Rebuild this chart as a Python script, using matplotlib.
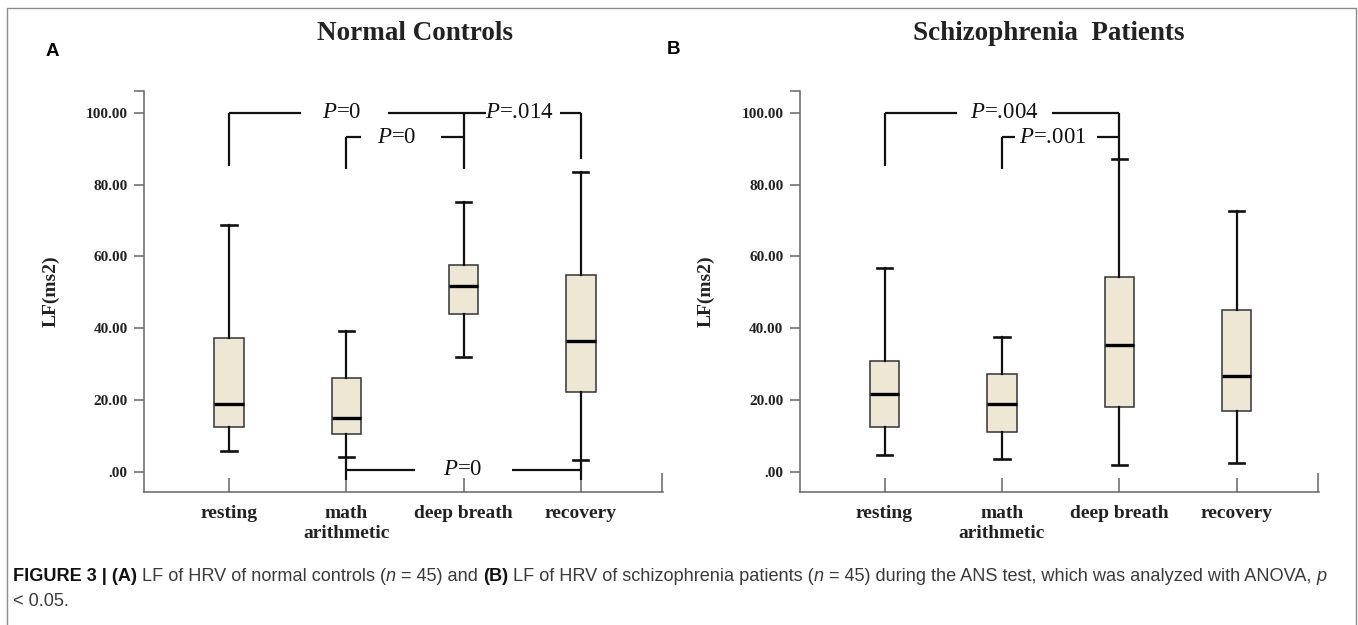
import matplotlib
matplotlib.use('Agg')
import matplotlib.pyplot as plt
from matplotlib.lines import Line2D

plt.rcParams['font.family'] = ['Liberation Serif', 'DejaVu Serif']
plt.rcParams['mathtext.fontset'] = 'custom'
plt.rcParams['mathtext.rm'] = 'Liberation Serif'
plt.rcParams['mathtext.it'] = 'Liberation Serif:italic'

# --- data ---
conditions = ['resting', 'math\narithmetic', 'deep breath', 'recovery']
positions = [1, 2, 3, 4]
y_ticks = [0, 20, 40, 60, 80, 100]
y_tick_labels = ['.00', '20.00', '40.00', '60.00', '80.00', '100.00']

# normal controls
nc_whislo = [5.9, 4.2, 31.9, 3.4]
nc_q1 = [12.5, 10.6, 43.9, 22.2]
nc_med = [19.0, 15.1, 51.8, 36.6]
nc_q3 = [37.4, 26.2, 57.7, 54.8]
nc_whishi = [68.7, 39.4, 75.0, 83.4]

# schizophrenia patients
sz_whislo = [4.7, 3.8, 2.1, 2.7]
sz_q1 = [12.5, 11.3, 18.2, 17.0]
sz_med = [21.7, 19.0, 35.3, 26.7]
sz_q3 = [30.9, 27.4, 54.2, 45.1]
sz_whishi = [56.7, 37.7, 87.2, 72.5]

# significance brackets: (from, to, y, label, text x, gap start, gap end)
nc_brackets = [(1, 3, 100, '=0', 1.96, 1.617, 2.357),
               (3, 4, 100, '=.014', 3.48, 3.19, 3.82),
               (2, 3, 93.2, '=0', 2.43, 2.126, 2.81),
               (2, 4, 0.7, '=0', 2.99, 2.59, 3.41)]
nc_legs = [(1, 100, 85.1), (3, 100, 84.4), (4, 100, 87.2),
           (2, 93.2, 84.4), (2, -2.3, 4.2), (4, -2.3, 3.4)]
sz_brackets = [(1, 3, 100, '=.004', 2.02, 1.618, 2.428),
               (2, 3, 93.2, '=.001', 2.43, 2.114, 2.81)]
sz_legs = [(1, 100, 85.1), (3, 100, 87.2), (2, 93.2, 84.4)]

W, H = 1358, 625
fig = plt.figure(figsize=(W / 100, H / 100), dpi=100)


def fx(x):
    return x / W


def fy(y):
    return 1 - y / H


def draw_panel(ax, whislo, q1, med, q3, whishi, brackets, legs):
    stats = [dict(whislo=a, q1=b, med=c, q3=d, whishi=e, label=l)
             for a, b, c, d, e, l in zip(whislo, q1, med, q3, whishi, conditions)]
    ax.bxp(stats, positions=positions, widths=0.25, capwidths=0.13,
           showfliers=False, patch_artist=True,
           boxprops=dict(facecolor='#EEE7D3', edgecolor='#333333', linewidth=1.1),
           whiskerprops=dict(color='#111111', linewidth=1.6),
           capprops=dict(color='#111111', linewidth=1.9),
           medianprops=dict(color='#000000', linewidth=2.4))
    ax.set_xlim(0.28, 4.70)
    ax.set_ylim(-5.5, 106)
    ax.set_yticks(y_ticks, y_tick_labels, fontsize=11, fontweight='bold', color='#222222')
    ax.set_yticks([105.9], minor=True)
    ax.set_xticks(positions, conditions, fontsize=14, fontweight='bold', color='#222222',
                  linespacing=1.3)
    ax.set_xticks([4.695], minor=True)
    ax.tick_params(axis='y', which='both', direction='out', length=7, width=1.1,
                   color='#666666', pad=5)
    ax.tick_params(axis='x', which='major', direction='in', length=10, width=1.1,
                   color='#666666', pad=9)
    ax.tick_params(axis='x', which='minor', direction='in', length=14, width=1.1,
                   color='#666666')
    for s in ['top', 'right']:
        ax.spines[s].set_visible(False)
    for s in ['left', 'bottom']:
        ax.spines[s].set_color('#666666')
        ax.spines[s].set_linewidth(1.1)
    ax.set_ylabel('LF(ms2)', fontsize=14, fontweight='bold', color='#222222')
    ax.yaxis.set_label_coords(-0.164, 0.5)

    for xa, xb, y, lbl, xt, g0, g1 in brackets:
        ax.plot([xa, g0], [y, y], color='#111111', lw=1.6, solid_capstyle='butt')
        ax.plot([g1, xb], [y, y], color='#111111', lw=1.6, solid_capstyle='butt')
        ax.text(xt, y, r'$P$' + lbl, ha='center', va='center', fontsize=16.5, color='#111111')
    for x, y0, y1 in legs:
        ax.plot([x, x], [y0, y1], color='#111111', lw=1.6, solid_capstyle='butt')


ax1 = fig.add_axes([fx(144.4), fy(492), 518.6 / W, 401 / H])
ax2 = fig.add_axes([fx(800), fy(492), 519 / W, 401 / H])
draw_panel(ax1, nc_whislo, nc_q1, nc_med, nc_q3, nc_whishi, nc_brackets, nc_legs)
draw_panel(ax2, sz_whislo, sz_q1, sz_med, sz_q3, sz_whishi, sz_brackets, sz_legs)

fig.text(fx(414.5), fy(34), 'Normal Controls', fontsize=19.5, fontweight='bold',
         color='#222222', ha='center', va='center')
fig.text(fx(1049), fy(34), 'Schizophrenia  Patients', fontsize=19.5, fontweight='bold',
         color='#222222', ha='center', va='center')
fig.text(fx(52.5), fy(51), 'A', family='Liberation Sans', fontsize=13.5,
         fontweight='bold', ha='center', va='center')
fig.text(fx(674), fy(50), 'B', family='Liberation Sans', fontsize=13.5,
         fontweight='bold', ha='center', va='center')

# frame around the figure panel
fig.add_artist(Line2D([fx(7), fx(7), fx(1355.5), fx(1355.5)], [0, fy(8), fy(8), 0],
                      transform=fig.transFigure, color='#8a8a8a', lw=1))

# caption
cap1 = [('FIGURE 3 | (A)', 'b'), (' LF of HRV of normal controls (', 'r'), ('n', 'i'),
        (' = 45) and ', 'r'), ('(B)', 'b'), (' LF of HRV of schizophrenia patients (', 'r'),
        ('n', 'i'), (' = 45) during the ANS test, which was analyzed with ANOVA, ', 'r'),
        ('p', 'i')]
cap2 = [('< 0.05.', 'r')]
renderer = fig.canvas.get_renderer()


def caption_line(pieces, x0, base, size):
    x = x0
    texts = []
    for s, st in pieces:
        kw = dict(family='Liberation Sans', fontsize=size, va='baseline', ha='left')
        if st == 'b':
            kw.update(fontweight='bold', color='#111111')
        elif st == 'i':
            kw.update(fontstyle='italic', color='#3a3a3a')
        else:
            kw.update(color='#3a3a3a')
        t = fig.text(fx(x), fy(base), s, **kw)
        texts.append(t)
        x += t.get_window_extent(renderer).width
    return x - x0, texts


w, tmp = caption_line(cap1, 13, 581, 12)
for t in tmp:
    t.remove()
cap_size = 12 * 1320 / w
caption_line(cap1, 13, 581, cap_size)
caption_line(cap2, 13, 606, cap_size)

fig.savefig('out.png', dpi=100)
